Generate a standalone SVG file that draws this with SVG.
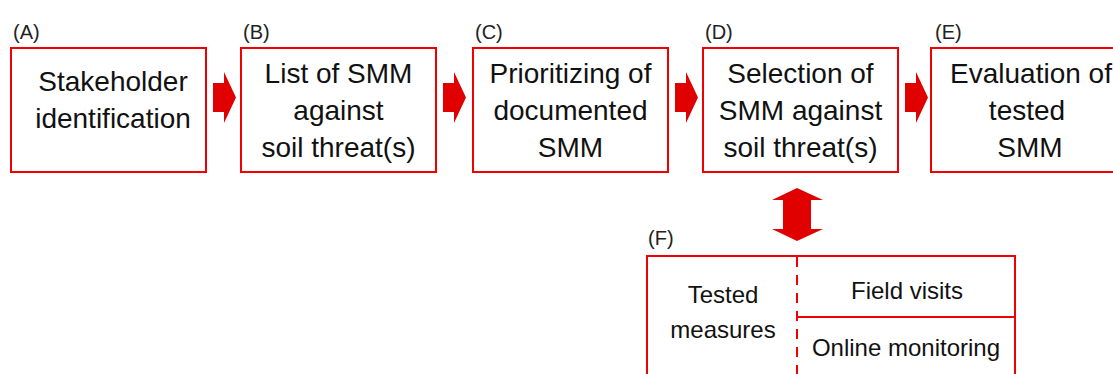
<svg xmlns="http://www.w3.org/2000/svg" width="1113" height="374" viewBox="0 0 1113 374">
<style>
.box{fill:#fff;stroke:#f00000;stroke-width:2}
.t{font-family:"Liberation Sans",Arial,sans-serif;font-size:28px;fill:#111;text-anchor:middle}
.s{font-family:"Liberation Sans",Arial,sans-serif;font-size:24px;fill:#111;text-anchor:middle}
.lb{font-family:"Liberation Sans",Arial,sans-serif;font-size:20px;fill:#222}
.arr{fill:#e00000}
.ln{stroke:#f00000;stroke-width:2;fill:none}
</style>
<rect width="1113" height="374" fill="#fff"/>
<g id="A">
<text class="lb" x="13" y="39">(A)</text>
<rect class="box" x="11" y="48" width="195" height="124"/>
<text class="t" x="113" y="91">Stakeholder</text>
<text class="t" x="113" y="128">identification</text>
</g>
<g id="B">
<text class="lb" x="243" y="39">(B)</text>
<rect class="box" x="241" y="48" width="195" height="124"/>
<text class="t" x="338.5" y="83">List of SMM</text>
<text class="t" x="338.5" y="120">against</text>
<text class="t" x="338.5" y="157">soil threat(s)</text>
</g>
<g id="C">
<text class="lb" x="475" y="39">(C)</text>
<rect class="box" x="473" y="48" width="195" height="124"/>
<text class="t" x="570.5" y="83">Prioritizing of</text>
<text class="t" x="570.5" y="120">documented</text>
<text class="t" x="570.5" y="157">SMM</text>
</g>
<g id="D">
<text class="lb" x="705" y="39">(D)</text>
<rect class="box" x="703" y="48" width="195" height="124"/>
<text class="t" x="800.5" y="83">Selection of</text>
<text class="t" x="800.5" y="120">SMM against</text>
<text class="t" x="800.5" y="157">soil threat(s)</text>
</g>
<g id="E">
<text class="lb" x="935" y="39">(E)</text>
<rect class="box" x="931" y="48" width="195" height="124"/>
<text class="t" x="1031" y="83">Evaluation of</text>
<text class="t" x="1027" y="120">tested</text>
<text class="t" x="1030" y="157">SMM</text>
</g>
<g id="F">
<text class="lb" x="648" y="245">(F)</text>
<rect class="box" x="647" y="256" width="368" height="130"/>
<line class="ln" x1="797" y1="257" x2="797" y2="374" stroke-dasharray="10 8"/>
<line class="ln" x1="797" y1="317" x2="1015" y2="317"/>
<text class="s" x="723" y="303">Tested</text>
<text class="s" x="723" y="338">measures</text>
<text class="s" x="907" y="299">Field visits</text>
<text class="s" x="906" y="356">Online monitoring</text>
</g>
<g id="connectors">
<polygon class="arr" points="213,83 224,83 224,72 236,97.5 224,123 224,112 213,112"/>
<polygon class="arr" points="443,83 454,83 454,72 466,97.5 454,123 454,112 443,112"/>
<polygon class="arr" points="675,83 686,83 686,72 698,97.5 686,123 686,112 675,112"/>
<polygon class="arr" points="905,83 916,83 916,72 928,97.5 916,123 916,112 905,112"/>
<polygon class="arr" points="797,188 823,200 811,200 811,229 823,229 797,241 772,229 783,229 783,200 772,200"/>
</g>
</svg>
